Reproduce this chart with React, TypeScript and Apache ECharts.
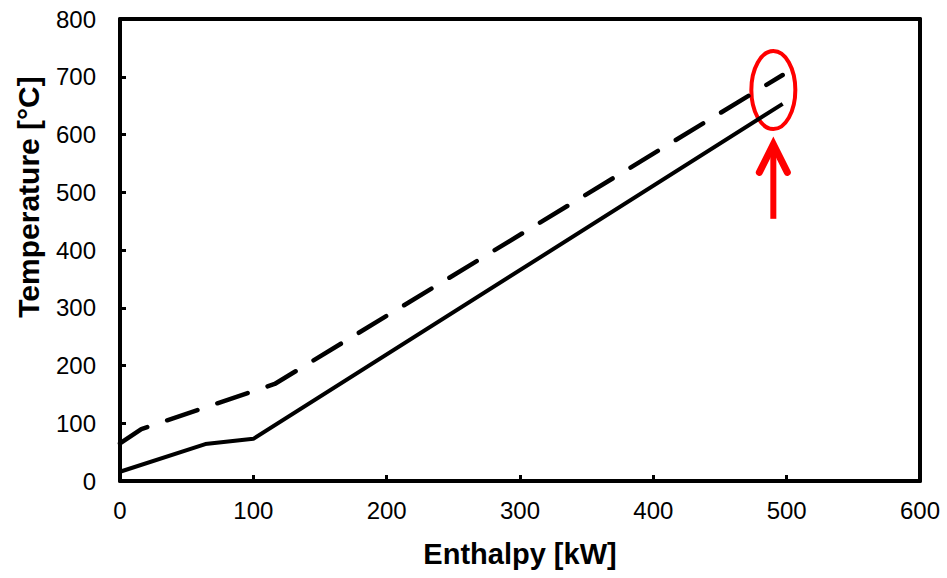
import React, { useEffect, useRef } from "react";
import * as echarts from "echarts";

const solidX = [0, 64, 100, 497];
const solidY = [16, 64, 73, 653];
const dashX = [0, 16, 103, 116, 497];
const dashY = [65, 90, 158, 168, 703];
const xTicks = [0, 100, 200, 300, 400, 500, 600];
const yTicks = [0, 100, 200, 300, 400, 500, 600, 700, 800];
const highlight = { x: 490, y: 677 };
const arrowTip = { x: 490, y: 583 };
const arrowBase = { x: 490, y: 454 };

export default function App() {
  const ref = useRef<HTMLDivElement>(null);
  useEffect(() => {
    const chart = echarts.init(ref.current!, null, { renderer: "svg" });
    const font = "Liberation Sans, Arial, sans-serif";
    const labelStyle = { fontFamily: font, fontSize: 24, color: "#000" };
    const nameStyle = (s: number) => ({ fontFamily: font, fontSize: s, fontWeight: "bold" as const, color: "#000" });
    const line = { onZero: false, lineStyle: { color: "#000", width: 4 } };
    const tick = { inside: true, length: 6, lineStyle: { color: "#000", width: 3 } };
    chart.setOption({
      animation: false,
      grid: { left: 120, right: 27, top: 19, bottom: 97 },
      xAxis: [
        {
          type: "value", min: xTicks[0], max: xTicks[xTicks.length - 1], interval: 100,
          name: "Enthalpy [kW]", nameLocation: "middle", nameGap: 58, nameTextStyle: nameStyle(29),
          axisLine: line, axisTick: tick,
          axisLabel: { ...labelStyle, margin: 17 },
          splitLine: { show: false },
        },
        {
          type: "value", position: "top", min: xTicks[0], max: xTicks[xTicks.length - 1], interval: 100,
          axisLine: line, axisTick: { show: false }, axisLabel: { show: false }, splitLine: { show: false },
        },
      ],
      yAxis: [
        {
          type: "value", min: yTicks[0], max: yTicks[yTicks.length - 1], interval: 100,
          name: "Temperature [°C]", nameLocation: "middle", nameGap: 77,
          nameTextStyle: { ...nameStyle(30), padding: [0, 0, 0, 106] },
          axisLine: line, axisTick: tick,
          axisLabel: { ...labelStyle, margin: 24 },
          splitLine: { show: false },
        },
        {
          type: "value", position: "right", min: yTicks[0], max: yTicks[yTicks.length - 1], interval: 100,
          axisLine: line, axisTick: { show: false }, axisLabel: { show: false }, splitLine: { show: false },
        },
      ],
      series: [
        {
          type: "line", data: solidX.map((x, i) => [x, solidY[i]]), symbol: "none",
          lineStyle: { color: "#000", width: 4 },
        },
        {
          type: "line", data: dashX.map((x, i) => [x, dashY[i]]), symbol: "none",
          lineStyle: { color: "#000", width: 4.5, type: [32, 21], cap: "round" },
        },
      ],
    });
    const c = chart.convertToPixel({ gridIndex: 0 }, [highlight.x, highlight.y]);
    const t = chart.convertToPixel({ gridIndex: 0 }, [arrowTip.x, arrowTip.y]);
    const b = chart.convertToPixel({ gridIndex: 0 }, [arrowBase.x, arrowBase.y]);
    chart.setOption({
      graphic: [
        { type: "ellipse", shape: { cx: c[0], cy: c[1], rx: 22, ry: 39 }, style: { fill: "none", stroke: "#f00", lineWidth: 4 } },
        { type: "line", shape: { x1: b[0], y1: b[1], x2: t[0], y2: t[1] + 4 }, style: { stroke: "#f00", lineWidth: 6 } },
        { type: "polyline", shape: { points: [[t[0] - 14, t[1] + 28], [t[0], t[1]], [t[0] + 14, t[1] + 28]] }, style: { stroke: "#f00", lineWidth: 7, fill: "none", lineCap: "round", lineJoin: "miter" } },
      ],
    });
    return () => chart.dispose();
  }, []);
  return <div ref={ref} style={{ width: 947, height: 578, position: "absolute", left: 0, top: 0, background: "#fff" }} />;
}
